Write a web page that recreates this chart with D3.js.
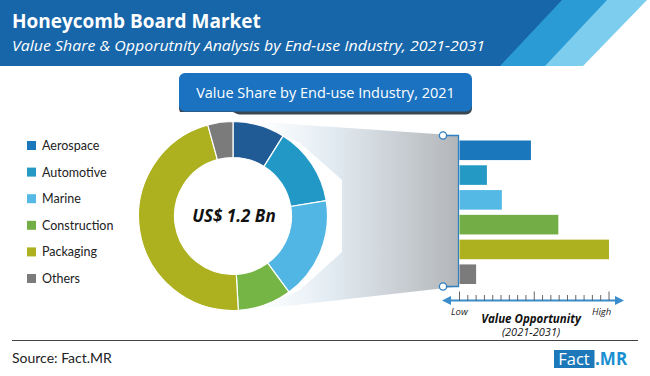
<!DOCTYPE html>
<html>
<head>
<meta charset="utf-8">
<script src="https://cdn.jsdelivr.net/npm/d3@7"></script>
<style>
  body { margin: 0; background: #fff; }
  svg { display: block; font-family: "Open Sans", sans-serif; }
</style>
</head>
<body>
<svg id="chart" width="650" height="376"></svg>
<script>
// data
const industries = ["Aerospace", "Automotive", "Marine", "Construction", "Packaging", "Others"]
const shareValues = [8.9, 13.5, 17.5, 9.2, 46.6, 4.3]          // % value share 2021
const opportunityValues = [8.6, 3.3, 5.1, 11.9, 18, 2.0]      // relative value opportunity (scale ticks)
const donutColors = ["#215b96", "#2298c6", "#52b6e4", "#74b545", "#adb01f", "#7b7b7b"]
const barColors = ["#1b77bc", "#2399c4", "#55b9e6", "#72ad45", "#adb01f", "#7b7b7b"]
const opportunityTicks = d3.range(0, 19)
const totalLabel = "US$ 1.2 Bn"

const svg = d3.select("#chart")

// HEADER BANNER
svg.append("polygon").attr("points", "0,0 647,0 583,66 0,66").attr("fill", "#7dcdee")
svg.append("polygon").attr("points", "0,0 607,0 545,66 0,66").attr("fill", "#2a9bd5")
svg.append("polygon").attr("points", "0,0 562,0 500,66 0,66").attr("fill", "#1766a9")

svg.append("text")
   .attr("x", 12).attr("y", 28)
   .attr("font-size", 19).attr("font-weight", "bold")
   .attr("fill", "#fff")
   .text("Honeycomb Board Market")

svg.append("text")
   .attr("x", 12).attr("y", 51)
   .attr("font-size", 14.5).attr("font-style", "italic")
   .attr("textLength", 473).attr("lengthAdjust", "spacingAndGlyphs")
   .attr("fill", "#fff")
   .text("Value Share & Opporutnity Analysis by End-use Industry, 2021-2031")

// SUB HEADER BOX
svg.append("rect")
   .attr("x", 179).attr("y", 74.5).attr("width", 293).attr("height", 40)
   .attr("rx", 6).attr("fill", "#3a4652")
svg.append("rect")
   .attr("x", 179).attr("y", 73).attr("width", 293).attr("height", 38.5)
   .attr("rx", 6).attr("fill", "#1a72c1")
svg.append("text")
   .attr("x", 325.5).attr("y", 98)
   .attr("text-anchor", "middle")
   .attr("font-size", 14.5).attr("fill", "#fff")
   .text("Value Share by End-use Industry, 2021")

// LEGEND
const legend = svg.append("g").selectAll("g")
   .data(industries).enter().append("g")
   .attr("transform", (d, i) => "translate(27," + (141 + i * 26.6) + ")")
legend.append("rect").attr("width", 9).attr("height", 9)
   .attr("fill", (d, i) => barColors[i])
legend.append("text").attr("x", 15).attr("y", 9)
   .attr("font-size", 12.5).attr("fill", "#222")
   .attr("font-family", "Lato, sans-serif")
   .text(d => d)

// CONNECTOR (gradient zoom area)
const defs = svg.append("defs")
const grad = defs.append("linearGradient").attr("id", "fade")
   .attr("x1", "0%").attr("x2", "100%").attr("y1", "0%").attr("y2", "0%")
grad.append("stop").attr("offset", "0%").attr("stop-color", "#ffffff")
grad.append("stop").attr("offset", "35%").attr("stop-color", "#e3ecf3")
grad.append("stop").attr("offset", "100%").attr("stop-color", "#b3b6b9")

svg.append("polygon")
   .attr("points", "260,122 458.5,135.5 458.5,286.5 260,309")
   .attr("fill", "url(#fade)")

// white padding around donut
svg.append("polygon")
   .attr("points", "342,180 342,252 300,290 233,320 140,320 140,112 233,112 300,143")
   .attr("fill", "#fff")

// bracket
const bracketColor = "#2f7fc1"
svg.append("path")
   .attr("d", "M443,135.5 H458.5 V286.5 H443")
   .attr("fill", "none").attr("stroke", bracketColor).attr("stroke-width", 1.3)
svg.selectAll(".knob").data([135.5, 286.5]).enter().append("circle")
   .attr("cx", 443).attr("cy", d => d).attr("r", 3.6)
   .attr("fill", "#fff").attr("stroke", bracketColor).attr("stroke-width", 1.3)

// DONUT
const cx = 233, cy = 216
const pie = d3.pie().sort(null).value(d => d)
const arc = d3.arc().innerRadius(58.5).outerRadius(94.5)
const donut = svg.append("g").attr("transform", "translate(" + cx + "," + cy + ")")
donut.selectAll("path").data(pie(shareValues)).enter().append("path")
   .attr("d", arc)
   .attr("fill", (d, i) => donutColors[i])
   .attr("stroke", "#fff").attr("stroke-width", 1.2)

donut.append("text")
   .attr("x", 1).attr("y", 6)
   .attr("text-anchor", "middle")
   .attr("font-size", 17).attr("font-weight", "bold").attr("font-style", "italic")
   .attr("fill", "#111")
   .text(totalLabel)

// BARS
const x = d3.scaleLinear().domain([0, 18]).range([459.5, 609])
const y = d3.scaleBand().domain(industries).range([140.5, 284]).paddingInner(0.21)

svg.append("g").selectAll("rect")
   .data(opportunityValues).enter().append("rect")
   .attr("x", x(0))
   .attr("y", (d, i) => y(industries[i]))
   .attr("width", d => x(d) - x(0))
   .attr("height", y.bandwidth())
   .attr("fill", (d, i) => barColors[i])

// OPPORTUNITY AXIS
const axisY = 300.5
const axisColor = "#3b8ccb"
svg.append("line")
   .attr("x1", 447).attr("x2", 619).attr("y1", axisY).attr("y2", axisY)
   .attr("stroke", axisColor).attr("stroke-width", 1.8)
svg.append("path").attr("d", "M442," + axisY + " l9,-4.5 v9 z").attr("fill", axisColor)
svg.append("path").attr("d", "M624," + axisY + " l-9,-4.5 v9 z").attr("fill", axisColor)

svg.append("g").selectAll("line")
   .data(opportunityTicks).enter().append("line")
   .attr("x1", d => x(d)).attr("x2", d => x(d))
   .attr("y1", d => d % 9 == 0 ? axisY - 9 : axisY - 5.5)
   .attr("y2", axisY)
   .attr("stroke", "#555").attr("stroke-width", 0.9)

svg.append("text").attr("x", 451).attr("y", 315)
   .attr("font-size", 9.5).attr("font-style", "italic").attr("fill", "#222")
   .text("Low")
svg.append("text").attr("x", 592).attr("y", 315)
   .attr("font-size", 9.5).attr("font-style", "italic").attr("fill", "#222")
   .text("High")
svg.append("text").attr("x", 531).attr("y", 322.5)
   .attr("text-anchor", "middle")
   .attr("font-size", 11.5).attr("font-weight", "bold").attr("font-style", "italic").attr("fill", "#111")
   .text("Value Opportunity")
svg.append("text").attr("x", 531).attr("y", 336)
   .attr("text-anchor", "middle")
   .attr("font-size", 11).attr("font-style", "italic").attr("fill", "#111")
   .text("(2021-2031)")

// FOOTER
svg.append("line")
   .attr("x1", 12).attr("x2", 638).attr("y1", 340.5).attr("y2", 340.5)
   .attr("stroke", "#444").attr("stroke-width", 1)
svg.append("text").attr("x", 12).attr("y", 362.5)
   .attr("font-size", 14).attr("fill", "#222")
   .attr("font-family", "Lato, sans-serif")
   .text("Source: Fact.MR")

svg.append("rect").attr("x", 554).attr("y", 350).attr("width", 40.5).attr("height", 18)
   .attr("fill", "#1c78b8")
svg.append("text").attr("x", 574).attr("y", 365)
   .attr("text-anchor", "middle")
   .attr("font-size", 16.5).attr("fill", "#fff")
   .text("Fact")
svg.append("text").attr("x", 595).attr("y", 365)
   .attr("font-size", 17).attr("font-weight", "bold")
   .attr("fill", "#1a8fd1")
   .text(".MR")
</script>
</body>
</html>
